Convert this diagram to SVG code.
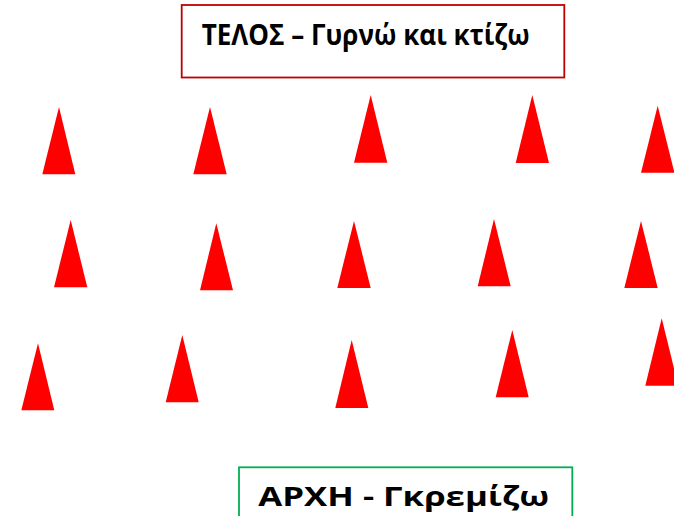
<svg xmlns="http://www.w3.org/2000/svg" width="674" height="516" viewBox="0 0 674 516">
<style>
.t{fill:#FF0000;stroke:none}
.lbl{font-family:"Open Sans","Noto Sans","Liberation Sans",sans-serif;font-weight:bold;fill:#000}
</style>
<rect width="674" height="516" fill="#fff"/>
<g id="end-box">
<rect x="181.7" y="5" width="382.6" height="72.5" fill="#fff" stroke="#C00000" stroke-width="1.8"/>
<text class="lbl" x="201.7" y="45" font-size="28.5" textLength="328" lengthAdjust="spacingAndGlyphs">ΤΕΛΟΣ – Γυρνώ και κτίζω</text>
</g>
<g id="start-box">
<rect x="239" y="467.3" width="333.3" height="60" fill="#fff" stroke="#00B050" stroke-width="1.8"/>
<text class="lbl" x="258.3" y="505.5" font-size="26" textLength="291" lengthAdjust="spacingAndGlyphs">ΑΡΧΗ - Γκρεμίζω</text>
</g>
<g id="cones">
<polygon class="t" points="59,107 42.3,174.3 75.3,174.3"/>
<polygon class="t" points="210,107 193.3,174.3 226.7,174.3"/>
<polygon class="t" points="370.7,95 354,162.7 387.3,162.7"/>
<polygon class="t" points="532.3,95 515.7,163 549,163"/>
<polygon class="t" points="657.7,105.7 641,172.7 674.4,172.7"/>
<polygon class="t" points="70.7,220 54,287.3 87.3,287.3"/>
<polygon class="t" points="216.3,223.3 200,290.3 233,290.3"/>
<polygon class="t" points="354,221 337.3,288 370.7,288"/>
<polygon class="t" points="494,219 477.7,286.3 510.7,286.3"/>
<polygon class="t" points="641,221 624.3,288 657.7,288"/>
<polygon class="t" points="38,343.3 21.3,410.3 54.3,410.3"/>
<polygon class="t" points="182.3,335 165.7,402.3 198.7,402.3"/>
<polygon class="t" points="351.7,340 335.3,408 368.3,408"/>
<polygon class="t" points="512.3,330 495.7,397.3 528.7,397.3"/>
<polygon class="t" points="661.7,318.3 645.3,385.7 678.3,385.7"/>
</g>
</svg>
